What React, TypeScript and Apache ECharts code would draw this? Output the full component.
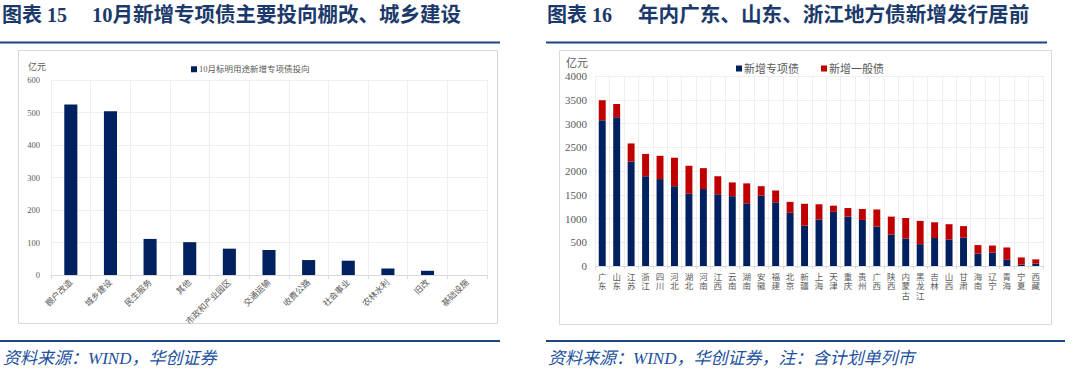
import React, { useEffect, useRef } from "react";
import * as echarts from "echarts";

const leftTitleNo = "图表 15";
const leftTitle = "10月新增专项债主要投向棚改、城乡建设";
const rightTitleNo = "图表 16";
const rightTitle = "年内广东、山东、浙江地方债新增发行居前";
const leftSource = "资料来源：WIND，华创证券";
const rightSource = "资料来源：WIND，华创证券，注：含计划单列市";
const unitLabel = "亿元";

const leftCategories = ["棚户改造", "城乡建设", "民生服务", "其他", "市政和产业园区", "交通运输", "收费公路", "社会事业", "农林水利", "旧改", "基础设施"];
const leftValues = [525, 504, 111, 101, 81, 77, 46, 44, 20, 13, 0];
const leftSeriesName = "10月标明用途新增专项债投向";

const provinces = ["广东", "山东", "江苏", "浙江", "四川", "河北", "湖北", "河南", "江西", "云南", "湖南", "安徽", "福建", "北京", "新疆", "上海", "天津", "重庆", "贵州", "广西", "陕西", "内蒙古", "黑龙江", "吉林", "山西", "甘肃", "海南", "辽宁", "青海", "宁夏", "西藏"];
const specialBond = [3070, 3130, 2200, 1890, 1830, 1680, 1520, 1620, 1510, 1470, 1320, 1480, 1340, 1120, 850, 980, 1140, 1040, 970, 830, 660, 580, 460, 590, 560, 600, 260, 280, 130, 30, 50];
const generalBond = [420, 280, 380, 470, 490, 600, 590, 440, 380, 290, 420, 200, 250, 230, 460, 320, 130, 180, 230, 360, 380, 430, 490, 330, 320, 240, 180, 150, 260, 150, 90];
const specialName = "新增专项债";
const generalName = "新增一般债";

const NAVY = "#002060";
const RED = "#C00000";
const TITLE_COLOR = "#1b3a6b";
const RULE_COLOR = "#1f4589";
const SOURCE_COLOR = "#22509e";
const AXIS_TEXT = "#595959";
const GRID_LINE = "#eeeeee";
const SERIF = "'Liberation Serif', 'Noto Sans CJK SC', serif";
const TITLE_FONT = "'Liberation Serif', 'Noto Sans CJK SC', serif";

export default function App() {
  const ref = useRef<HTMLDivElement>(null);
  useEffect(() => {
    if (!ref.current) return;
    const chart = echarts.init(ref.current, undefined, { renderer: "svg" });
    const titleStyle = (text: string, x: number, size: number) => ({
      type: "text",
      x,
      y: 15,
      style: { text, fill: TITLE_COLOR, font: `bold ${size}px ${TITLE_FONT}`, verticalAlign: "middle" },
    });
    const sourceStyle = (text: string, x: number) => ({
      type: "text",
      x,
      y: 358,
      style: { text, fill: SOURCE_COLOR, font: `italic 17px ${SERIF}`, verticalAlign: "middle" },
    });
    const rule = (x1: number, x2: number, y: number) => ({
      type: "line",
      shape: { x1, y1: y, x2, y2: y },
      style: { stroke: RULE_COLOR, lineWidth: 2.2 },
    });
    const option: any = {
      animation: false,
      backgroundColor: "#ffffff",
      graphic: [
        { type: "rect", z: -10, shape: { x: 18.5, y: 50.5, width: 479, height: 273 }, style: { fill: "#fff", stroke: "#d9d9d9", lineWidth: 1 } },
        { type: "rect", z: -10, shape: { x: 559.5, y: 50.5, width: 492, height: 274 }, style: { fill: "#fff", stroke: "#d9d9d9", lineWidth: 1 } },
        titleStyle(leftTitleNo, 2, 20),
        titleStyle(leftTitle, 92, 20.5),
        titleStyle(rightTitleNo, 547, 20),
        titleStyle(rightTitle, 638, 20.6),
        rule(0, 500, 42.5),
        rule(546, 1047, 42.5),
        rule(0, 500, 341),
        rule(546, 1065, 341),
        sourceStyle(leftSource, 3),
        sourceStyle(rightSource, 548),
        { type: "text", x: 28, y: 67, style: { text: unitLabel, fill: AXIS_TEXT, font: `9px ${SERIF}`, verticalAlign: "middle" } },
        { type: "text", x: 566, y: 63, style: { text: unitLabel, fill: AXIS_TEXT, font: `11px ${SERIF}`, verticalAlign: "middle" } },
      ],
      legend: [
        {
          data: [leftSeriesName],
          left: 186,
          top: 60,
          itemWidth: 6,
          itemHeight: 6,
          icon: "rect",
          textStyle: { fontSize: 8.5, color: AXIS_TEXT, fontFamily: SERIF, padding: [0, 0, 0, -3] },
        },
        {
          data: [specialName, generalName],
          left: 731,
          top: 58,
          itemWidth: 6,
          itemHeight: 6,
          itemGap: 22,
          icon: "rect",
          textStyle: { fontSize: 11, color: AXIS_TEXT, fontFamily: SERIF, padding: [0, 0, 0, -3] },
        },
      ],
      grid: [
        { left: 51, top: 80, width: 436, height: 195, containLabel: false },
        { left: 595, top: 76, width: 448, height: 190, containLabel: false },
      ],
      xAxis: [
        {
          type: "category",
          gridIndex: 0,
          data: leftCategories,
          boundaryGap: true,
          axisLine: { lineStyle: { color: "#d9d9d9" } },
          axisTick: { show: true, length: 4, lineStyle: { color: "#d9d9d9" } },
          splitLine: { show: true, lineStyle: { color: GRID_LINE } },
          axisLabel: { interval: 0, rotate: 45, fontSize: 8.5, color: AXIS_TEXT, fontFamily: SERIF, margin: 6 },
        },
        {
          type: "category",
          gridIndex: 1,
          data: provinces,
          boundaryGap: true,
          axisLine: { lineStyle: { color: "#d9d9d9" } },
          axisTick: { show: true, length: 3, lineStyle: { color: "#d9d9d9" } },
          splitLine: { show: true, lineStyle: { color: GRID_LINE } },
          axisLabel: {
            interval: 0,
            fontSize: 8.5,
            lineHeight: 9.5,
            color: AXIS_TEXT,
            fontFamily: SERIF,
            margin: 6,
            formatter: (v: string) => v.split("").join("\n"),
          },
        },
      ],
      yAxis: [
        {
          type: "value",
          gridIndex: 0,
          min: 0,
          max: 600,
          interval: 100,
          axisLine: { show: false },
          axisTick: { show: false },
          splitLine: { lineStyle: { color: GRID_LINE } },
          axisLabel: { fontSize: 8.5, color: AXIS_TEXT, fontFamily: SERIF, margin: 11, formatter: (v: number) => String(v) },
        },
        {
          type: "value",
          gridIndex: 1,
          min: 0,
          max: 4000,
          interval: 500,
          axisLine: { show: false },
          axisTick: { show: false },
          splitLine: { lineStyle: { color: GRID_LINE } },
          axisLabel: { fontSize: 11, color: AXIS_TEXT, fontFamily: SERIF, margin: 8, formatter: (v: number) => String(v) },
        },
      ],
      series: [
        {
          name: leftSeriesName,
          type: "bar",
          xAxisIndex: 0,
          yAxisIndex: 0,
          data: leftValues,
          barWidth: "33%",
          itemStyle: { color: NAVY },
        },
        {
          name: specialName,
          type: "bar",
          stack: "total",
          xAxisIndex: 1,
          yAxisIndex: 1,
          data: specialBond,
          barWidth: "48%",
          itemStyle: { color: NAVY },
        },
        {
          name: generalName,
          type: "bar",
          stack: "total",
          xAxisIndex: 1,
          yAxisIndex: 1,
          data: generalBond,
          barWidth: "48%",
          itemStyle: { color: RED },
        },
      ],
    };
    chart.setOption(option);
    return () => chart.dispose();
  }, []);
  return (
    <div
      ref={ref}
      style={{ position: "absolute", left: 0, top: 0, width: 1080, height: 377, background: "#fff" }}
    />
  );
}
